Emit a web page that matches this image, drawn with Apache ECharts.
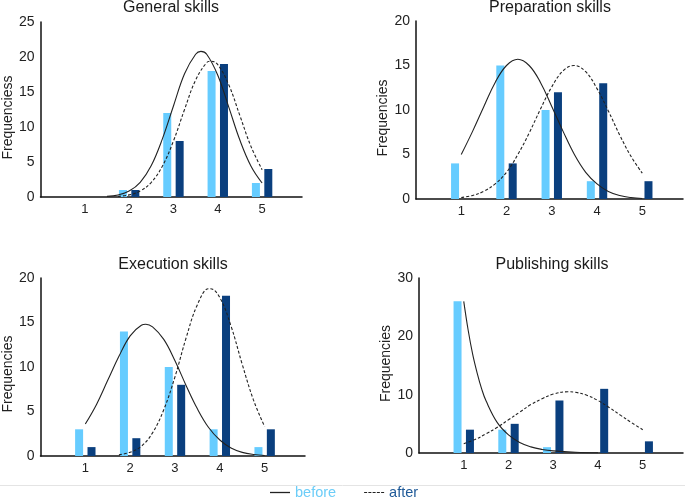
<!DOCTYPE html>
<html>
<head>
<meta charset="utf-8">
<script src="https://cdn.jsdelivr.net/npm/echarts@6/dist/echarts.min.js"></script>
<style>html,body{margin:0;padding:0;background:#fff}#c{width:685px;height:498px}</style>
</head>
<body>
<div id="c"></div>
<script>
// ---- data ----
const categories = [1, 2, 3, 4, 5];
const titles = ['General skills', 'Preparation skills', 'Execution skills', 'Publishing skills'];
const yNames = ['Frequenciess', 'Frequencies', 'Frequencies', 'Frequencies'];
const yMax = [25, 20, 20, 30];
const yInterval = [5, 5, 5, 10];

const generalBefore = [0, 1, 12, 18, 2];
const generalAfter = [0, 1, 8, 19, 4];
const preparationBefore = [4, 15, 10, 2, 0];
const preparationAfter = [0, 4, 12, 13, 2];
const executionBefore = [3, 14, 10, 3, 1];
const executionAfter = [1, 2, 8, 18, 3];
const publishingBefore = [26, 4, 1, 0, 0];
const publishingAfter = [4, 5, 9, 11, 2];

// fitted curves: [score, frequency]
const generalBeforeCurve = [[1.5,0.09],[1.75,0.29],[2,0.85],[2.25,2.1],[2.5,4.5],[2.75,8.3],[3,13.0],[3.25,17.6],[3.5,20.4],[3.62,20.8],[3.75,20.4],[4,17.4],[4.25,12.8],[4.5,8.1],[4.75,4.4],[5,2.0]];
const generalAfterCurve = [[1.75,0.09],[2,0.3],[2.25,0.86],[2.5,2.1],[2.75,4.4],[3,8.0],[3.25,12.5],[3.5,16.7],[3.75,19.2],[3.85,19.4],[4,18.9],[4.25,16.0],[4.5,11.6],[4.75,7.2],[5,3.9]];
const preparationBeforeCurve = [[1,5.0],[1.25,7.6],[1.5,10.4],[1.75,13.1],[2,15.0],[2.25,15.7],[2.5,15.0],[2.75,13.1],[3,10.4],[3.25,7.6],[3.5,5.0],[3.75,3.0],[4,1.7],[4.25,0.85],[4.5,0.39],[4.75,0.16],[5,0.06]];
const preparationAfterCurve = [[1,0.17],[1.25,0.4],[1.5,0.87],[1.75,1.7],[2,3.0],[2.25,5.0],[2.5,7.4],[2.75,10.1],[3,12.6],[3.25,14.4],[3.49,15.0],[3.75,14.3],[4,12.4],[4.25,9.9],[4.5,7.2],[4.75,4.8],[5,2.9]];
const executionBeforeCurve = [[1,3.6],[1.25,5.8],[1.5,8.5],[1.75,11.2],[2,13.5],[2.25,14.7],[2.35,14.8],[2.5,14.5],[2.75,13.1],[3,10.7],[3.25,7.9],[3.5,5.3],[3.75,3.2],[4,1.8],[4.25,0.9],[4.5,0.41],[4.75,0.17],[5,0.06]];
const executionAfterCurve = [[1.75,0.13],[2,0.42],[2.25,1.1],[2.5,2.6],[2.75,5.2],[3,8.9],[3.25,13.3],[3.5,17.0],[3.75,18.8],[3.79,18.8],[4,17.8],[4.25,14.6],[4.5,10.3],[4.75,6.3],[5,3.3]];
const publishingBeforeCurve = [[1,26],[1.1,21.0],[1.2,16.9],[1.3,13.7],[1.4,11.0],[1.5,8.9],[1.75,5.2],[2,3.1],[2.25,1.8],[2.5,1.05],[2.75,0.61],[3,0.36],[3.5,0.12],[4,0.04]];
const publishingAfterCurve = [[1,1.6],[1.25,2.3],[1.5,3.3],[1.75,4.4],[2,5.7],[2.25,7.0],[2.5,8.3],[2.75,9.3],[3,10.1],[3.33,10.5],[3.5,10.4],[3.75,9.9],[4,9.0],[4.25,7.8],[4.5,6.5],[4.75,5.2],[5,4.0]];

const beforeBars = [generalBefore, preparationBefore, executionBefore, publishingBefore];
const afterBars = [generalAfter, preparationAfter, executionAfter, publishingAfter];
const beforeCurves = [generalBeforeCurve, preparationBeforeCurve, executionBeforeCurve, publishingBeforeCurve];
const afterCurves = [generalAfterCurve, preparationAfterCurve, executionAfterCurve, publishingAfterCurve];

// ---- layout / style ----
const FONT = '"Liberation Sans", Arial, Helvetica, sans-serif';
const LIGHT = '#66ccff';
const DARK = '#0a3f7e';
const grids = [
  {left: 39, top: 22, width: 263, height: 175},
  {left: 416, top: 21, width: 267, height: 178},
  {left: 39, top: 278, width: 266, height: 178},
  {left: 419, top: 278, width: 264, height: 175}
];
const titlePos = [{x: 171, y: 0}, {x: 550, y: 0}, {x: 173, y: 257}, {x: 552, y: 257}];
const nameGaps = [25, 23, 25, 24];
// shift of the rotated axis name along the axis (positive = downwards)
const nameShift = [8, 8, 7, -2];
const DASH_ICON = 'path://M0,0h3v1h-3z M4.25,0h3v1h-3z M8.5,0h3v1h-3z M12.75,0h3v1h-3z M17,0h3v1h-3z';

const option = {
  animation: false,
  backgroundColor: '#fff',
  textStyle: {fontFamily: FONT},
  title: titles.map((t, i) => ({
    text: t, left: titlePos[i].x, top: titlePos[i].y, textAlign: 'center', padding: 0,
    textStyle: {fontSize: 16, fontWeight: 'normal', color: '#1a1a1a', fontFamily: FONT}
  })),
  legend: {
    left: 265, top: 480, itemWidth: 20, itemHeight: 1.3, itemGap: 28,
    textStyle: {fontSize: 14.5, fontFamily: FONT},
    data: [
      {name: 'before', icon: 'rect', textStyle: {color: '#6ccdf8'}},
      {name: 'after', icon: DASH_ICON, textStyle: {color: '#1f5a98'}}
    ]
  },
  graphic: [{
    type: 'line', shape: {x1: 0, y1: 485.5, x2: 685, y2: 485.5},
    style: {stroke: '#e4e4e4', lineWidth: 1}, silent: true, z: -1
  }],
  grid: grids,
  xAxis: grids.map((g, i) => ({
    type: 'value', gridIndex: i, min: 0, max: 5.9, interval: 1,
    splitLine: {show: false}, axisTick: {show: false},
    axisLine: {show: true, onZero: false, lineStyle: {color: '#111', width: 1.5}},
    axisLabel: {
      fontSize: 13, color: '#222', margin: 6, fontFamily: FONT, showMaxLabel: false,
      formatter: v => (categories.indexOf(v) >= 0 ? String(v) : '')
    }
  })),
  yAxis: grids.map((g, i) => ({
    type: 'value', gridIndex: i, min: 0, max: yMax[i], interval: yInterval[i],
    name: yNames[i], nameLocation: 'middle', nameGap: nameGaps[i],
    nameTextStyle: {
      fontSize: 14, color: '#222', fontFamily: FONT,
      padding: nameShift[i] >= 0 ? [0, 2 * nameShift[i], 0, 0] : [0, 0, 0, -2 * nameShift[i]]
    },
    splitLine: {show: false}, axisTick: {show: false},
    axisLine: {show: true, lineStyle: {color: '#111', width: 1.5}},
    axisLabel: {fontSize: 14, color: '#222', margin: 6, fontFamily: FONT}
  })),
  series: []
};

for (let i = 0; i < 4; i++) {
  option.series.push({
    type: 'bar', name: 'before bars', xAxisIndex: i, yAxisIndex: i,
    barWidth: 8, barGap: '55%', z: 2,
    itemStyle: {color: LIGHT},
    data: categories.map((c, k) => [c, beforeBars[i][k]])
  });
  option.series.push({
    type: 'bar', name: 'after bars', xAxisIndex: i, yAxisIndex: i,
    barWidth: 8, barGap: '55%', z: 2,
    itemStyle: {color: DARK},
    data: categories.map((c, k) => [c, afterBars[i][k]])
  });
}
for (let i = 0; i < 4; i++) {
  option.series.push({
    type: 'line', name: 'before', xAxisIndex: i, yAxisIndex: i,
    smooth: 0.4, symbol: 'none', z: 5, silent: true,
    lineStyle: {color: '#222', width: 1.1, type: 'solid'},
    itemStyle: {color: '#222'},
    data: beforeCurves[i]
  });
  option.series.push({
    type: 'line', name: 'after', xAxisIndex: i, yAxisIndex: i,
    smooth: 0.4, symbol: 'none', z: 5, silent: true,
    lineStyle: {color: '#222', width: 1.1, type: [3, 2]},
    itemStyle: {color: '#222'},
    data: afterCurves[i]
  });
}

const chart = echarts.init(document.getElementById('c'), null, {renderer: 'canvas'});
chart.setOption(option);
</script>
</body>
</html>
